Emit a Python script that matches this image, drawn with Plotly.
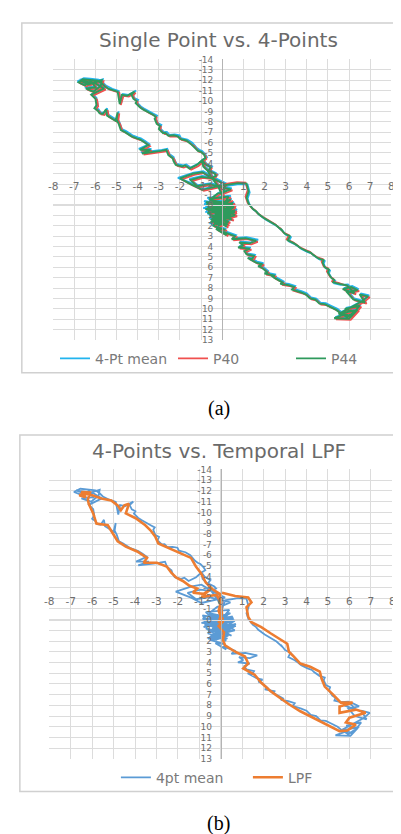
import plotly.graph_objects as go

# ---------------- data ----------------
x_ticks = list(range(-8, 9))
y_ticks = list(range(-14, 14))

# 4-point mean (panel a and panel b)
mean_x = [0.05, -0.7, 0.45, -0.8, 0.6, -0.55, 0.65, -0.5, 0.35, -0.9, 0.55, -0.4, 0.25, -0.7, 0.4, -0.15, 0.6, -0.85, 0.5, -0.4, 0.7, -0.6, 0.4, -0.55, 0.15, 0.05,
          -0.15, -0.45, -0.22, -0.3, -0.6, -0.48, -0.75, -0.9, -0.72, -0.8, -0.95, -1.08, -1.2, -1.35, -1.42, -1.65, -1.95, -2.02, -2.25, -2.5, -2.62, -2.75, -2.95, -2.88, -3.05, -3.15, -3.08, -3.25, -3.45, -3.52, -3.7, -3.85, -4.05, -3.98, -4.15, -4.25, -4.08, -4.45, -4.7, -4.78, -4.9, -5.2, -5.32, -5.5, -5.65,
          -5.85, -6.25, -6.55, -6.85, -6.45, -6.15, -5.95, -6.5, -6.05, -5.7, -5.65, -6.3, -6.75, -5.95, -5.55, -6.15, -5.95,
          -5.9, -6.0, -5.85, -5.75, -5.6, -5.45, -5.4, -5.25, -5.0, -4.9, -4.95, -4.85, -4.8, -4.75, -4.55, -4.45, -4.25, -4.0, -3.85, -3.65, -3.45, -3.95, -3.35, -3.85, -3.05, -2.85, -2.6, -2.5, -2.3, -2.25, -2.15, -1.85, -1.7, -1.5, -1.15, -0.9, -0.85, -0.65,
          -0.45, -0.9, -1.35, -2.1, -1.45, -0.9, 0.2, -0.4, -0.95, -1.55, -1.15, -0.55, 0.45, 0.15, -0.15, -0.55,
          0.6, -0.8, 0.45, -0.6, 0.7, -0.25, 0.35, -0.7, 0.25, -0.85, 0.65, -0.45, 0.5, -0.75, 0.4, -0.6, 0.3, -0.4, 0.35, -0.5, 0.2, -0.25,
          0.25, 0.1, 0.65, 0.5, 1.15, 1.7, 1.35, 0.85, 1.05, 0.8, 1.35, 1.1, 1.2, 1.55, 1.45, 1.25, 1.65, 1.95, 1.75, 1.9, 2.2, 2.05, 2.55, 2.35, 2.5, 2.9, 2.8, 3.15, 3.45, 3.35, 3.75, 4.0, 4.2, 4.45, 4.65, 4.9, 5.15, 5.45,
          5.75, 5.35, 6.05, 6.35, 5.85, 6.55, 6.15, 5.65, 5.95, 6.45, 5.55, 6.65, 6.95, 6.55, 6.8, 6.25, 5.95, 6.45, 6.15, 5.75, 6.3, 5.95,
          5.6, 5.3, 5.35, 5.2, 5.05, 5.1, 4.9, 4.8, 4.85, 4.6, 4.35, 4.25, 4.05, 3.75, 3.6, 3.45, 3.15, 3.25, 3.0, 2.8, 2.9, 2.6, 2.35, 2.25, 2.05, 1.75, 1.65, 1.5, 1.3, 1.2, 1.3, 1.2, 0.8, 0.2, 0.05]
mean_y = [-0.4, 0.1, -0.6, 0.7, 0.2, -0.5, 1.0, 1.6, 0.5, 0.3, -0.3, 2.0, 1.1, -0.7, -0.9, 0.4, 0.0, -0.1, 1.5, 0.8, 0.6, 1.8, 0.1, -0.3, 0.9, -1.0,
          -1.88, -2.68, -2.9, -3.08, -3.38, -3.68, -3.98, -4.38, -4.6, -4.88, -5.18, -5.3, -5.48, -5.83, -6.0, -6.28, -6.43, -6.7, -6.78, -6.75, -7.03, -7.0, -7.38, -7.7, -7.88, -8.38, -8.6, -8.78, -8.98, -9.1, -9.28, -9.48, -9.88, -10.1, -10.28, -10.68, -11.0, -10.58, -10.68, -9.8, -10.98, -11.18, -11.3, -11.48, -11.78,
          -12.05, -12.15, -12.2, -11.9, -11.6, -12.0, -11.4, -11.3, -11.0, -11.55, -12.1, -11.7, -12.05, -11.8, -11.3, -10.7, -10.3,
          -9.7, -9.4, -9.2, -8.9, -8.85, -9.3, -8.7, -8.5, -8.2, -9.0, -8.3, -7.9, -7.6, -7.3, -7.1, -6.95, -6.7, -6.5, -6.4, -6.15, -5.85, -5.4, -5.4, -5.05, -5.2, -5.3, -5.4, -4.9, -4.6, -4.3, -3.95, -3.8, -3.9, -3.6, -3.95, -4.4, -3.8, -3.4,
          -2.7, -3.25, -3.1, -2.6, -2.1, -1.55, -2.05, -2.65, -2.8, -2.5, -1.9, -2.1, -1.6, -1.35, -1.2, -0.6,
          -0.1, 0.2, 0.8, 1.1, 0.4, 1.9, 1.5, 0.8, 2.0, -0.4, 0.1, 1.6, 1.0, 0.5, -0.6, 1.3, 1.8, 0.0, 0.7, 1.9, 2.3, 2.2,
          2.8, 2.5, 2.9, 3.2, 3.1, 3.35, 3.6, 3.5, 3.8, 4.0, 4.1, 4.35, 4.65, 4.8, 5.15, 5.0, 5.45, 5.6, 5.8, 5.9, 6.4, 6.5, 6.7, 6.65, 6.9, 7.35, 7.5, 7.6, 7.8, 8.05, 8.3, 8.5, 8.9, 9.0, 9.4, 9.45, 9.7, 10.0,
          10.5, 10.8, 10.85, 10.2, 9.9, 9.6, 10.6, 10.3, 10.7, 10.0, 10.4, 9.2, 8.7, 8.5, 9.3, 9.0, 8.3, 8.1, 7.8, 8.0, 8.4, 7.65,
          7.7, 7.55, 7.3, 7.1, 6.6, 6.3, 6.1, 5.65, 5.4, 5.25, 4.9, 4.7, 4.55, 4.25, 4.0, 3.8, 3.5, 3.1, 2.85, 2.35, 2.6, 2.05, 1.75, 1.6, 1.4, 0.95, 0.7, 0.5, 0.0, -0.6, -1.2, -1.95, -2.0, -1.8, -0.9]

# single point P40 (panel a)
p40_x = [0.1, -0.5, 0.5, -0.6, 0.6, -0.4, 0.7, -0.3, 0.4, -0.7, 0.6, -0.2, 0.3, -0.5, 0.4, 0.0, 0.65, -0.65, 0.55, -0.25, 0.7, -0.45, 0.45, -0.35, 0.2, 0.1,
         -0.1, -0.42, -0.28, -0.25, -0.58, -0.5, -0.7, -0.88, -0.75, -0.78, -0.92, -1.1, -1.18, -1.32, -1.45, -1.62, -1.92, -2.05, -2.22, -2.47, -2.65, -2.72, -2.92, -2.9, -3.02, -3.12, -3.1, -3.22, -3.42, -3.55, -3.67, -3.82, -4.02, -4.0, -4.12, -4.22, -4.1, -4.42, -4.67, -4.8, -4.87, -5.17, -5.35, -5.47, -5.62,
         -5.82, -6.22, -6.5, -6.72, -6.42, -6.12, -5.92, -6.38, -6.02, -5.67, -5.62, -6.27, -6.62, -5.92, -5.52, -6.12, -5.92,
         -5.87, -5.97, -5.82, -5.72, -5.57, -5.42, -5.37, -5.22, -4.97, -4.87, -4.92, -4.82, -4.77, -4.72, -4.52, -4.42, -4.22, -3.97, -3.82, -3.62, -3.42, -3.82, -3.32, -3.72, -3.02, -2.82, -2.57, -2.47, -2.27, -2.22, -2.12, -1.82, -1.67, -1.47, -1.12, -0.87, -0.82, -0.62,
         -0.42, -0.87, -1.32, -1.92, -1.42, -0.87, 0.23, -0.37, -0.92, -1.42, -1.12, -0.52, 0.48, 0.18, -0.12, -0.52,
         0.58, -0.62, 0.48, -0.42, 0.68, -0.12, 0.38, -0.52, 0.28, -0.67, 0.63, -0.32, 0.53, -0.57, 0.43, -0.42, 0.33, -0.27, 0.38, -0.37, 0.23, -0.22,
         0.28, 0.13, 0.68, 0.53, 1.18, 1.68, 1.38, 0.88, 1.08, 0.83, 1.38, 1.13, 1.23, 1.58, 1.48, 1.28, 1.68, 1.98, 1.78, 1.93, 2.23, 2.08, 2.58, 2.38, 2.53, 2.93, 2.83, 3.18, 3.48, 3.38, 3.78, 4.03, 4.23, 4.48, 4.68, 4.93, 5.18, 5.48,
         5.78, 5.38, 6.08, 6.38, 5.88, 6.58, 6.18, 5.68, 5.98, 6.48, 5.58, 6.68, 6.98, 6.58, 6.83, 6.28, 5.98, 6.48, 6.18, 5.78, 6.33, 5.98,
         5.5, 5.2, 5.25, 5.1, 4.95, 5.0, 4.8, 4.7, 4.75, 4.5, 4.25, 4.15, 3.95, 3.65, 3.5, 3.35, 3.05, 3.15, 2.9, 2.7, 2.8, 2.5, 2.25, 2.15, 1.95, 1.65, 1.55, 1.4, 1.2, 1.1, 1.2, 1.1, 0.7, 0.1, -0.05]
p40_y = [-0.2, 0.3, -0.4, 0.9, 0.4, -0.3, 1.1, 1.6, 0.7, 0.5, -0.1, 2.0, 1.3, -0.5, -0.7, 0.6, 0.2, 0.1, 1.5, 1.0, 0.8, 1.8, 0.3, -0.1, 1.1, -0.8,
         -1.7, -2.5, -2.72, -2.9, -3.2, -3.52, -3.8, -4.2, -4.42, -4.7, -5.0, -5.12, -5.3, -5.65, -5.82, -6.1, -6.25, -6.52, -6.6, -6.57, -6.85, -6.82, -7.2, -7.52, -7.7, -8.2, -8.42, -8.6, -8.8, -8.92, -9.1, -9.3, -9.7, -9.92, -10.1, -10.5, -10.8, -10.42, -10.5, -9.62, -10.8, -11.0, -11.12, -11.3, -11.6,
         -11.85, -11.95, -12.0, -11.7, -11.4, -11.8, -11.2, -11.1, -10.8, -11.35, -11.9, -11.5, -11.85, -11.6, -11.1, -10.5, -10.1,
         -9.5, -9.2, -9.0, -8.7, -8.65, -9.1, -8.5, -8.3, -8.0, -8.8, -8.1, -7.7, -7.4, -7.1, -6.9, -6.75, -6.5, -6.3, -6.2, -5.95, -5.65, -5.2, -5.2, -4.85, -5.0, -5.1, -5.2, -4.7, -4.4, -4.1, -3.75, -3.6, -3.7, -3.4, -3.75, -4.2, -3.6, -3.2,
         -2.5, -3.05, -2.9, -2.45, -1.9, -1.35, -1.85, -2.45, -2.6, -2.3, -1.7, -1.9, -1.4, -1.15, -1.0, -0.4,
         0.1, 0.4, 1.0, 1.3, 0.6, 2.1, 1.7, 1.0, 2.2, -0.2, 0.3, 1.8, 1.2, 0.7, -0.4, 1.5, 2.0, 0.2, 0.9, 2.1, 2.5, 2.4,
         3.0, 2.7, 3.1, 3.4, 3.3, 3.55, 3.8, 3.7, 4.0, 4.2, 4.3, 4.55, 4.85, 5.0, 5.35, 5.2, 5.65, 5.8, 6.0, 6.1, 6.6, 6.7, 6.9, 6.85, 7.1, 7.55, 7.7, 7.8, 8.0, 8.25, 8.5, 8.7, 9.1, 9.2, 9.6, 9.65, 9.9, 10.2,
         10.7, 11.0, 11.05, 10.4, 10.1, 9.8, 10.8, 10.5, 10.9, 10.2, 10.6, 9.4, 8.9, 8.7, 9.5, 9.2, 8.5, 8.3, 8.0, 8.2, 8.6, 7.85,
         7.5, 7.35, 7.1, 6.9, 6.4, 6.1, 5.9, 5.45, 5.2, 5.05, 4.7, 4.5, 4.35, 4.05, 3.8, 3.6, 3.3, 2.9, 2.65, 2.15, 2.4, 1.85, 1.55, 1.4, 1.2, 0.75, 0.5, 0.3, -0.2, -0.8, -1.4, -2.15, -2.2, -2.0, -1.1]

# single point P44 (panel a)
p44_x = [0.0, -0.6, 0.4, -0.7, 0.5, -0.5, 0.6, -0.4, 0.3, -0.8, 0.5, -0.3, 0.2, -0.6, 0.3, -0.1, 0.55, -0.75, 0.45, -0.35, 0.6, -0.55, 0.35, -0.45, 0.1, 0.0,
         -0.2, -0.5, -0.3, -0.35, -0.65, -0.55, -0.8, -0.95, -0.8, -0.85, -1.0, -1.15, -1.25, -1.4, -1.5, -1.7, -2.0, -2.1, -2.3, -2.55, -2.7, -2.8, -3.0, -2.95, -3.1, -3.2, -3.15, -3.3, -3.5, -3.6, -3.75, -3.9, -4.1, -4.05, -4.2, -4.3, -4.15, -4.5, -4.75, -4.85, -4.95, -5.25, -5.4, -5.55, -5.7,
         -5.9, -6.3, -6.6, -6.8, -6.5, -6.2, -6.0, -6.45, -6.1, -5.75, -5.7, -6.35, -6.7, -6.0, -5.6, -6.2, -6.0,
         -5.95, -6.05, -5.9, -5.8, -5.65, -5.5, -5.45, -5.3, -5.05, -4.95, -5.0, -4.9, -4.85, -4.8, -4.6, -4.5, -4.3, -4.05, -3.9, -3.7, -3.5, -3.9, -3.4, -3.8, -3.1, -2.9, -2.65, -2.55, -2.35, -2.3, -2.2, -1.9, -1.75, -1.55, -1.2, -0.95, -0.9, -0.7,
         -0.5, -0.95, -1.4, -2.0, -1.5, -0.95, 0.15, -0.45, -1.0, -1.5, -1.2, -0.6, 0.4, 0.1, -0.2, -0.6,
         0.5, -0.7, 0.4, -0.5, 0.6, -0.2, 0.3, -0.6, 0.2, -0.75, 0.55, -0.4, 0.45, -0.65, 0.35, -0.5, 0.25, -0.35, 0.3, -0.45, 0.15, -0.3,
         0.2, 0.05, 0.6, 0.45, 1.1, 1.6, 1.3, 0.8, 1.0, 0.75, 1.3, 1.05, 1.15, 1.5, 1.4, 1.2, 1.6, 1.9, 1.7, 1.85, 2.15, 2.0, 2.5, 2.3, 2.45, 2.85, 2.75, 3.1, 3.4, 3.3, 3.7, 3.95, 4.15, 4.4, 4.6, 4.85, 5.1, 5.4,
         5.7, 5.3, 6.0, 6.3, 5.8, 6.5, 6.1, 5.6, 5.9, 6.4, 5.5, 6.6, 6.9, 6.5, 6.75, 6.2, 5.9, 6.4, 6.1, 5.7, 6.25, 5.9,
         5.55, 5.25, 5.3, 5.15, 5.0, 5.05, 4.85, 4.75, 4.8, 4.55, 4.3, 4.2, 4.0, 3.7, 3.55, 3.4, 3.1, 3.2, 2.95, 2.75, 2.85, 2.55, 2.3, 2.2, 2.0, 1.7, 1.6, 1.45, 1.25, 1.15, 1.25, 1.15, 0.75, 0.15, 0.0]
p44_y = [-0.3, 0.2, -0.5, 0.8, 0.3, -0.4, 1.0, 1.5, 0.6, 0.4, -0.2, 1.9, 1.2, -0.6, -0.8, 0.5, 0.1, 0.0, 1.4, 0.9, 0.7, 1.7, 0.2, -0.2, 1.0, -0.9,
         -1.8, -2.6, -2.8, -3.0, -3.3, -3.6, -3.9, -4.3, -4.5, -4.8, -5.1, -5.2, -5.4, -5.75, -5.9, -6.2, -6.35, -6.6, -6.7, -6.65, -6.95, -6.9, -7.3, -7.6, -7.8, -8.3, -8.5, -8.7, -8.9, -9.0, -9.2, -9.4, -9.8, -10.0, -10.2, -10.6, -10.9, -10.5, -10.6, -9.7, -10.9, -11.1, -11.2, -11.4, -11.7,
         -11.95, -12.05, -12.1, -11.8, -11.5, -11.9, -11.3, -11.2, -10.9, -11.45, -12.0, -11.6, -11.95, -11.7, -11.2, -10.6, -10.2,
         -9.6, -9.3, -9.1, -8.8, -8.75, -9.2, -8.6, -8.4, -8.1, -8.9, -8.2, -7.8, -7.5, -7.2, -7.0, -6.85, -6.6, -6.4, -6.3, -6.05, -5.75, -5.3, -5.3, -4.95, -5.1, -5.2, -5.3, -4.8, -4.5, -4.2, -3.85, -3.7, -3.8, -3.5, -3.85, -4.3, -3.7, -3.3,
         -2.6, -3.15, -3.0, -2.55, -2.0, -1.45, -1.95, -2.55, -2.7, -2.4, -1.8, -2.0, -1.5, -1.25, -1.1, -0.5,
         0.0, 0.3, 0.9, 1.2, 0.5, 2.0, 1.6, 0.9, 2.1, -0.3, 0.2, 1.7, 1.1, 0.6, -0.5, 1.4, 1.9, 0.1, 0.8, 2.0, 2.4, 2.3,
         2.9, 2.6, 3.0, 3.3, 3.2, 3.45, 3.7, 3.6, 3.9, 4.1, 4.2, 4.45, 4.75, 4.9, 5.25, 5.1, 5.55, 5.7, 5.9, 6.0, 6.5, 6.6, 6.8, 6.75, 7.0, 7.45, 7.6, 7.7, 7.9, 8.15, 8.4, 8.6, 9.0, 9.1, 9.5, 9.55, 9.8, 10.1,
         10.6, 10.9, 10.95, 10.3, 10.0, 9.7, 10.7, 10.4, 10.8, 10.1, 10.5, 9.3, 8.8, 8.6, 9.4, 9.1, 8.4, 8.2, 7.9, 8.1, 8.5, 7.75,
         7.6, 7.45, 7.2, 7.0, 6.5, 6.2, 6.0, 5.55, 5.3, 5.15, 4.8, 4.6, 4.45, 4.15, 3.9, 3.7, 3.4, 3.0, 2.75, 2.25, 2.5, 1.95, 1.65, 1.5, 1.3, 0.85, 0.6, 0.4, -0.1, -0.7, -1.3, -2.05, -2.1, -1.9, -1.0]

# temporal low-pass filter (panel b)
lpf_x = [0.0, -0.1, 0.1, -0.05, 0.05,
         0.0, -0.05, -0.4, -0.7, -0.93, -1.16, -1.39, -1.92, -2.37, -2.91, -3.06, -3.29, -3.52, -3.97, -4.43, -4.28, -4.5, -4.66, -4.81, -5.11, -5.57,
         -6.0, -6.4, -6.6, -6.3, -6.5, -6.1, -6.2, -6.16,
         -5.95, -5.8, -5.27, -5.04, -4.81, -4.43, -3.9, -3.44, -3.6, -2.98, -2.52, -2.3, -2.07, -1.77, -1.46,
         -1.1, -1.3, -0.8, -0.5, -0.9, -0.2, 0.0, -0.1,
         0.1, -0.1, 0.15, 0.1, 0.2,
         0.67, 1.13, 1.28, 1.05, 1.58, 1.89, 2.34, 2.65, 3.18, 3.71, 4.32, 4.78, 5.24, 5.54,
         5.9, 6.3, 5.84, 6.0, 6.76, 6.3, 5.54, 5.54, 6.15, 5.6,
         5.24, 4.85, 4.7, 4.62, 4.17, 3.71, 3.41, 3.18, 3.1, 2.72, 2.34, 1.89, 1.43, 1.28, 1.2, 1.43, 1.28, 0.67, 0.06]
lpf_y = [-0.4, 0.3, -0.2, 0.5, -0.6,
         -1.5, -2.4, -2.85, -3.45, -4.35, -4.95, -5.75, -6.2, -6.65, -7.1, -7.75, -8.35, -8.8, -9.45, -9.9, -10.8, -10.65, -10.2, -10.65, -11.1, -11.3,
         -11.6, -11.75, -11.6, -11.4, -11.9, -11.85, -11.2, -10.8,
         -9.9, -8.95, -8.8, -8.05, -7.3, -6.8, -6.35, -5.75, -5.3, -5.3, -4.95, -4.35, -3.9, -3.6, -3.15,
         -2.9, -2.5, -2.4, -2.8, -2.1, -2.3, -1.6, -0.8,
         0.2, 0.6, 1.2, 1.9, 2.4,
         3.0, 3.45, 4.1, 4.55, 5.15, 5.9, 6.7, 7.15, 7.9, 8.55, 9.15, 9.6, 10.1, 10.4,
         10.35, 9.8, 9.6, 9.15, 8.7, 8.4, 8.7, 8.1, 7.75, 7.75,
         7.0, 6.25, 5.5, 4.85, 4.4, 4.1, 3.45, 3.0, 2.25, 1.8, 1.3, 0.7, 0.25, -0.25, -1.15, -1.6, -2.05, -2.2, -2.5]

assert len(mean_x) == len(mean_y) == len(p40_x) == len(p40_y) == len(p44_x) == len(p44_y), (
    len(mean_x), len(mean_y), len(p40_x), len(p40_y), len(p44_x), len(p44_y))
assert len(lpf_x) == len(lpf_y), (len(lpf_x), len(lpf_y))

titles = ["Single Point vs. 4-Points", "4-Points vs. Temporal LPF"]
captions = ["(a)", "(b)"]

# ---------------- layout helpers ----------------
W, H = 401, 834
def px(v): return v / W
def py(v): return 1 - v / H

A_X = [px(41), px(386)]
A_Y = [py(331), py(47)]
B_X = [px(37), px(387)]
B_Y = [py(755), py(462)]

GRID = "#DCDCDC"
TXT = "#6E6E6E"

def xaxis(dom_x, dom_y):
    y0 = dom_y[0] + (13 / 27) * (dom_y[1] - dom_y[0])
    return dict(domain=dom_x, range=[-8, 8], tickmode="array", tickvals=x_ticks,
                ticktext=[str(v) for v in x_ticks], anchor="free", position=y0,
                showgrid=True, gridcolor=GRID, gridwidth=1.3, zeroline=False,
                showline=True, linecolor=GRID, linewidth=1, ticks="",
                ticklabelposition="inside", ticklabeloverflow="allow",
                ticklabelstandoff=12, tickfont=dict(family="DejaVu Sans", size=10.5, color=TXT),
                fixedrange=True)

def yaxis(dom_x, dom_y):
    x0 = (dom_x[0] + dom_x[1]) / 2
    return dict(domain=dom_y, range=[13, -14], tickmode="array", tickvals=y_ticks,
                ticktext=[str(v) for v in y_ticks], anchor="free", position=x0,
                showgrid=True, gridcolor=GRID, gridwidth=1.3, zeroline=False,
                showline=True, linecolor="#B4B4B4", linewidth=1.2, ticks="",
                ticklabelstandoff=7, tickfont=dict(family="DejaVu Sans", size=9, color=TXT),
                fixedrange=True)

fig = go.Figure()
fig.add_trace(go.Scatter(x=mean_x, y=mean_y, mode="lines", name="4-Pt mean",
                         line=dict(color="#22B4EE", width=1.8), xaxis="x", yaxis="y", legend="legend"))
fig.add_trace(go.Scatter(x=p40_x, y=p40_y, mode="lines", name="P40",
                         line=dict(color="#F0504F", width=1.8), xaxis="x", yaxis="y", legend="legend"))
fig.add_trace(go.Scatter(x=p44_x, y=p44_y, mode="lines", name="P44",
                         line=dict(color="#2E9A5C", width=1.9), xaxis="x", yaxis="y", legend="legend"))
fig.add_trace(go.Scatter(x=mean_x, y=mean_y, mode="lines", name="4pt mean",
                         line=dict(color="#5B9BD5", width=1.8), xaxis="x2", yaxis="y2", legend="legend2"))
fig.add_trace(go.Scatter(x=lpf_x, y=lpf_y, mode="lines", name="LPF",
                         line=dict(color="#ED7D31", width=2.6), xaxis="x2", yaxis="y2", legend="legend2"))

legfont = dict(family="DejaVu Sans", size=14, color="#7A7A7A")
fig.update_layout(
    width=W, height=H, margin=dict(l=0, r=0, t=0, b=0),
    paper_bgcolor="white", plot_bgcolor="white", showlegend=True,
    xaxis=xaxis(A_X, A_Y), yaxis=yaxis(A_X, A_Y),
    xaxis2=xaxis(B_X, B_Y), yaxis2=yaxis(B_X, B_Y),
    legend=dict(orientation="h", x=px(58), xanchor="left", y=py(350), yanchor="middle",
                font=legfont, bgcolor="rgba(0,0,0,0)", itemwidth=30,
                entrywidth=73, entrywidthmode="pixels"),
    legend2=dict(orientation="h", x=px(105), xanchor="left", y=py(774), yanchor="middle",
                 font=legfont, bgcolor="rgba(0,0,0,0)", itemwidth=30,
                 entrywidth=87, entrywidthmode="pixels"),
    shapes=[
        dict(type="rect", xref="paper", yref="paper", x0=px(9), x1=1.02, y0=py(364), y1=py(10),
             line=dict(color="#D0D0D0", width=1.5), layer="below"),
        dict(type="rect", xref="paper", yref="paper", x0=px(7), x1=1.02, y0=py(788), y1=py(427),
             line=dict(color="#D0D0D0", width=1.5), layer="below"),
    ],
    annotations=[
        dict(text=titles[0], x=px(210), y=py(27), xref="paper", yref="paper", showarrow=False,
             xanchor="center", yanchor="middle", font=dict(family="DejaVu Sans", size=20, color="#6A6A6A")),
        dict(text=titles[1], x=px(210), y=py(443), xref="paper", yref="paper", showarrow=False,
             xanchor="center", yanchor="middle", font=dict(family="DejaVu Sans", size=20, color="#6A6A6A")),
        dict(text=captions[0], x=px(210), y=py(400), xref="paper", yref="paper", showarrow=False,
             xanchor="center", yanchor="middle", font=dict(family="Liberation Serif", size=20, color="black")),
        dict(text=captions[1], x=px(210), y=py(820), xref="paper", yref="paper", showarrow=False,
             xanchor="center", yanchor="middle", font=dict(family="Liberation Serif", size=20, color="black")),
    ],
)

fig.write_html("out.html")
